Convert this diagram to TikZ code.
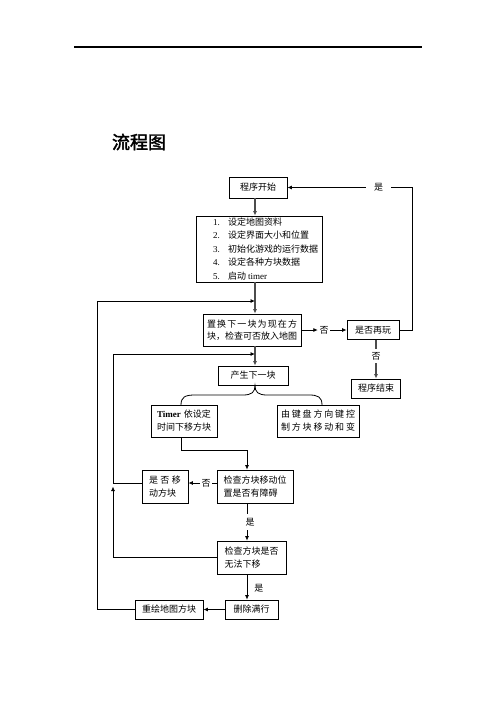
\documentclass[tikz,border=0pt]{standalone}
\usepackage{fontspec}
\setmainfont{Liberation Serif}
\newfontfamily\cjk{Noto Sans CJK SC}
\newfontfamily\cjkbold[FakeBold=2]{Noto Sans CJK SC}
\usetikzlibrary{arrows.meta}
\def\jloop#1{\ifx\relax#1\else\hfil#1\expandafter\jloop\fi}
\def\jfirst#1{#1\jloop}
\newcommand\jst[2]{\makebox[#1][s]{\jfirst#2\relax}}
\newcommand\itm[1]{\hspace*{13pt}\makebox[15pt][l]{\rmfamily #1}}
\tikzset{
  box/.style={draw, line width=0.8pt, inner sep=0pt, align=center,
    font=\cjk\fontsize{9}{13}\selectfont},
  conn/.style={line width=0.8pt},
  spine/.style={line width=1.4pt, draw=black!70},
  arr/.style={-{Latex[length=4.5pt,width=4pt]}},
  lbl/.style={inner xsep=1.5pt, inner ysep=1.5pt, font=\cjk\fontsize{9}{11}\selectfont}
}
\begin{document}
\begin{tikzpicture}[x=1pt,y=-1pt]
\useasboundingbox (0,0) rectangle (496,702);
% top rule and title
\coordinate (r1) at (74,47);
\coordinate (r2) at (422,47);
\draw[line width=2pt] (r1) -- (r2);
\node[font=\cjkbold\fontsize{18}{18}\selectfont, inner sep=0pt] (title) at (139,142) {流程图};
% helper coordinates
\coordinate (sp) at (255,0);
\coordinate (cx) at (247,0);
% boxes
\node[box, minimum width=58pt, minimum height=21pt] (start) at (258,187.5) {程序开始};
\node[box, minimum width=126pt, minimum height=66pt, align=left,
  font=\cjk\fontsize{9}{13.5}\selectfont] (steps) at (259,249)
  {\itm{1.}设定地图资料\\\itm{2.}设定界面大小和位置\\\itm{3.}初始化游戏的运行数据\\\itm{4.}设定各种方块数据\\\itm{5.}启动 {\rmfamily timer}};
\node[box, minimum width=98pt, minimum height=32pt, font=\cjk\fontsize{9}{12.5}\selectfont] (swap) at (252,330)
  {\jst{90pt}{置换下一块为现在方}\\\jst{90pt}{块，检查可否放入地图}};
\node[box, minimum width=52pt, minimum height=19pt] (replay) at (373,330) {是否再玩};
\node[box, minimum width=49pt, minimum height=19pt] (end) at (376,388.5) {程序结束};
\node[box, minimum width=70pt, minimum height=19pt] (gen) at (253,375.5) {产生下一块};
\node[box, minimum width=66pt, minimum height=32pt] (timer) at (184,421)
  {{\rmfamily\bfseries Timer}\hspace{3pt}依设定\\时间下移方块};
\node[box, minimum width=82pt, minimum height=32pt] (key) at (318,421)
  {\jst{74pt}{由键盘方向键控}\\\jst{74pt}{制方块移动和变}};
\node[box, minimum width=76pt, minimum height=33pt, align=left] (check) at (255,486.5)
  {检查方块移动位\\置是否有障碍};
\node[box, minimum width=46pt, minimum height=33pt, align=left] (move) at (165,486.5)
  {\jst{32pt}{是否移}\\动方块};
\node[box, minimum width=69pt, minimum height=33pt, align=left] (down) at (251.5,557.5)
  {检查方块是否\\无法下移};
\node[box, minimum width=53pt, minimum height=19pt] (del) at (251.5,609.5) {删除满行};
\node[box, minimum width=68pt, minimum height=19pt] (redraw) at (169,609.5) {重绘地图方块};
% labels
\node[lbl] (no1) at (324,330) {否};
\node[lbl, inner ysep=3pt] (no2) at (376,356) {否};
\node[lbl, inner xsep=8pt] (yes1) at (378.5,187.5) {是};
\node[lbl] (no3) at (206,483) {否};
\node[lbl, inner ysep=4pt] (yes2) at (250,522) {是};
% spine connectors
\draw[spine, arr] (start.south -| sp) -- (steps.north -| sp);
\draw[spine, arr] (steps.south -| sp) -- (swap.north -| sp);
\draw[spine, arr] (swap.south -| sp) -- (gen.north -| sp);
% swap -> replay -> end / start
\draw[conn, arr] (swap.east) -- (no1.west);
\draw[conn, arr] (no1.east) -- (replay.west);
\draw[spine] (replay.south -| no2) -- (no2.north);
\draw[spine, arr] (no2.south) -- (end.north);
\coordinate (rc) at (412,187.5);
\draw[conn] (replay.east) -| (rc) -- (yes1.east);
\draw[conn, arr] (yes1.west) -- (start.east);
% brace
\coordinate (br1) at (181,405);
\coordinate (br2) at (322,405);
\draw[conn] (br1) .. controls (181,397) and (185,395) .. (195,395) -- (243,395)
  .. controls (252,395) and (255,392) .. (gen.south -| sp)
  .. controls (255,392) and (258,395) .. (267,395) -- (309,395)
  .. controls (318,395) and (322,397) .. (br2);
% timer -> check
\coordinate (t1) at (181,450);
\draw[conn, arr] (timer.south -| t1) |- (t1 -| cx) -- (check.north -| cx);
% check -> move
\draw[conn] (check.west |- no3) -- (no3.east);
\draw[conn, arr] (no3.west) -- (move.east |- no3);
% check -> down
\draw[conn] (check.south -| cx) -- (yes2.north -| cx);
\draw[conn, arr] (yes2.south -| cx) -- (down.north -| cx);
% down -> del
\draw[conn, arr] (down.south -| cx) -- (del.north -| cx)
  node[lbl, pos=0.54, anchor=west, inner sep=0pt, xshift=7pt] (yes3) {是};
% del -> redraw
\draw[conn, arr] (del.west) -- (redraw.east);
% inner loop
\coordinate (i1) at (113,354);
\draw[conn, arr] (down.west) -| (move.west -| i1 |- no3);
\draw[conn, arr] (move.west |- no3) -| (i1) -- (i1 -| sp);
% outer loop
\coordinate (o1) at (97,301);
\draw[conn, arr] (redraw.west) -| (o1) -- (o1 -| sp);
\end{tikzpicture}
\end{document}
